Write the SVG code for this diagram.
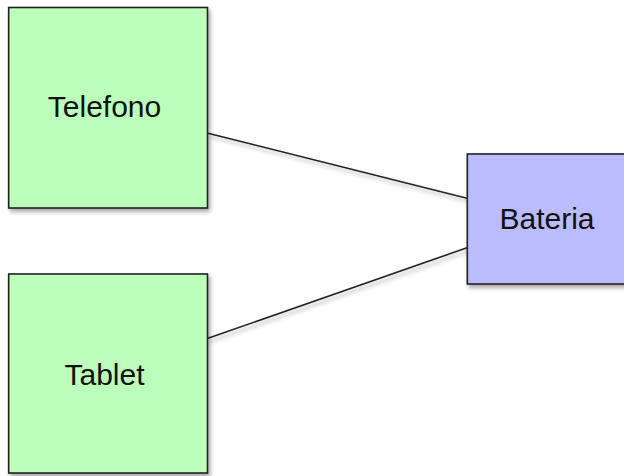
<svg xmlns="http://www.w3.org/2000/svg" width="624" height="476" viewBox="0 0 624 476">
  <defs>
    <filter id="shadow" x="-10%" y="-10%" width="130%" height="130%">
      <feDropShadow dx="2" dy="3" stdDeviation="2" flood-color="#000" flood-opacity="0.35"/>
    </filter>
    <style>
      .box { stroke: #222; stroke-width: 1.6; filter: url(#shadow); }
      .green { fill: #bbffbb; }
      .blue { fill: #bbbbff; }
      .label { font-family: "Liberation Sans", Arial, sans-serif; font-size: 30px; fill: #111; text-anchor: middle; }
      .edge { stroke: #222; stroke-width: 1.5; fill: none; filter: url(#shadow); }
    </style>
  </defs>
  <rect width="624" height="476" fill="#ffffff"/>
  <g id="connectors">
    <line class="edge" x1="208" y1="133.3" x2="467" y2="198.3"/>
    <line class="edge" x1="208" y1="338.3" x2="467" y2="247.7"/>
  </g>
  <g id="node-telefono">
    <rect class="box green" x="8.7" y="7.5" width="198.8" height="200.5"/>
    <text class="label" x="104.5" y="116.5">Telefono</text>
  </g>
  <g id="node-tablet">
    <rect class="box green" x="8.7" y="274" width="198.8" height="199"/>
    <text class="label" x="104.5" y="385">Tablet</text>
  </g>
  <g id="node-bateria">
    <rect class="box blue" x="467.3" y="154" width="160" height="130"/>
    <text class="label" x="547" y="229.3">Bateria</text>
  </g>
</svg>
